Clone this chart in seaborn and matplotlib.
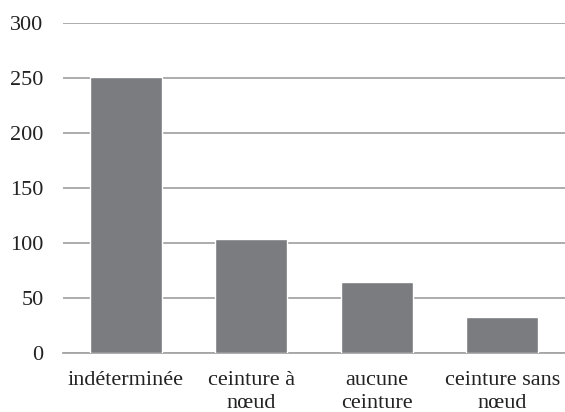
import matplotlib
matplotlib.use("Agg")
import matplotlib.pyplot as plt
import seaborn as sns
import pandas as pd

# data
categories = ["indéterminée", "ceinture à\nnœud", "aucune\nceinture", "ceinture sans\nnœud"]
values = [251, 104, 65, 33]
yticks = [0, 50, 100, 150, 200, 250, 300]

df = pd.DataFrame({"cat": categories, "n": values})

sns.set_style("white")
plt.rcParams["font.family"] = "serif"
plt.rcParams["font.serif"] = ["Liberation Serif", "Times New Roman", "DejaVu Serif"]

fig = plt.figure(figsize=(5.65, 4.12), dpi=100)
ax = fig.add_axes([0.1115, 0.143, 0.8885, 0.801])

sns.barplot(data=df, x="cat", y="n", color="#7b7c80", width=0.57,
            saturation=1, ax=ax, zorder=3)

ax.set_ylim(0, 300)
ax.set_yticks(yticks)
ax.set_xlim(-0.5, 3.5)
ax.yaxis.grid(True, color="#a6a6a6", linewidth=1.3, zorder=0)
ax.set_axisbelow(True)
for s in ["top", "right", "left"]:
    ax.spines[s].set_visible(False)
ax.spines["bottom"].set_color("#a6a6a6")
ax.spines["bottom"].set_linewidth(1.3)
ax.tick_params(axis="both", length=0, labelsize=16, colors="#222222")
ax.tick_params(axis="y", pad=14)
ax.tick_params(axis="x", pad=13)
ax.set_xlabel("")
ax.set_ylabel("")
for lbl in ax.get_xticklabels():
    lbl.set_linespacing(1.25)

fig.savefig("out.png", dpi=100)
